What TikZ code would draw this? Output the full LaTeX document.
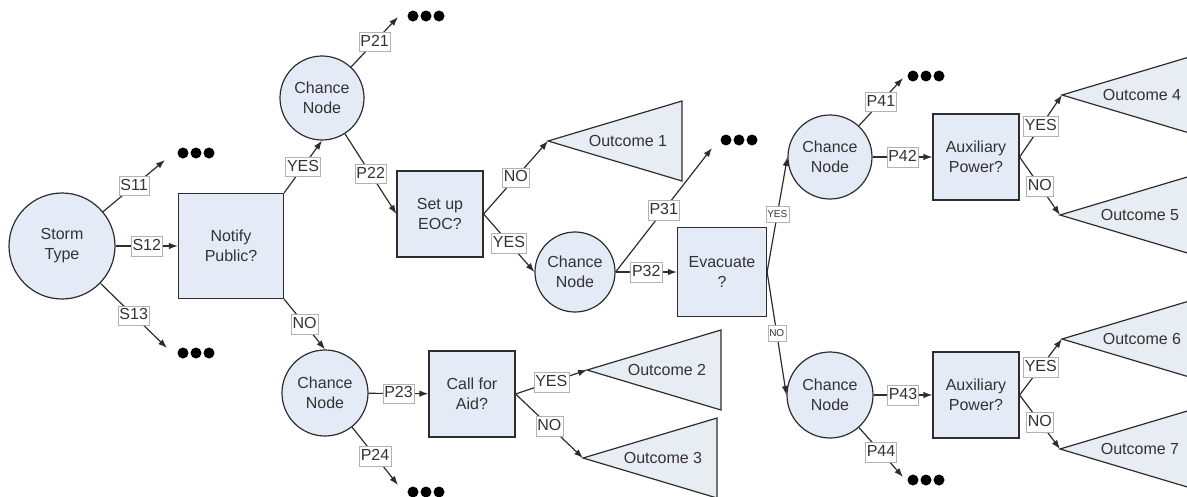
\documentclass[tikz,border=0pt]{standalone}
\usepackage{fontspec}
\setmainfont{Liberation Sans}
\usetikzlibrary{arrows.meta,calc}
\definecolor{nodeblue}{RGB}{228,234,246}
\definecolor{outgray}{RGB}{232,236,243}
\definecolor{linegray}{RGB}{45,45,45}

\begin{document}
\begin{tikzpicture}[x=1pt,y=-1pt,
  every node/.style={text=black!80,font=\fontsize{16}{20}\selectfont},
  chance/.style={circle,draw=linegray,fill=nodeblue,line width=1.2pt,minimum size=84pt,inner sep=0pt,align=center},
  decision/.style={rectangle,draw=linegray,fill=nodeblue,line width=1.2pt,minimum size=86pt,inner sep=0pt,align=center},
  branch/.style={draw=linegray,line width=1.2pt,-{Latex[length=9pt,width=6.5pt]}},
  lab/.style={fill=white,draw=black!30,line width=0.5pt,inner xsep=1.5pt,inner ysep=2pt,text height=12pt,text depth=3.5pt},
  smalllab/.style={lab,font=\fontsize{10}{12}\selectfont,text height=8pt,text depth=2pt,inner ysep=3pt},
  outcome/.style={draw=linegray,fill=outgray,line width=1.2pt}]
\clip (0,0) rectangle (1187,496);   % picture frame
% decision and chance nodes
\node[chance,minimum size=106pt] (storm) at (62,246) {Storm\\Type};
\node[decision,minimum size=105pt] (notify) at (231,246) {Notify\\Public?};
\node[chance] (ch1) at (322,98) {Chance\\Node};
\node[chance,minimum size=86pt] (ch2) at (325,393) {Chance\\Node};
\node[decision] (eoc) at (440,214) {Set up\\EOC?};
\node[decision] (aid) at (472,394) {Call for\\Aid?};
\node[chance,minimum size=80pt] (ch3) at (575,272) {Chance\\Node};
\node[decision,minimum size=89pt] (evac) at (722,272) {Evacuate\\?};
\node[chance] (ch4) at (830,157) {Chance\\Node};
\node[chance,minimum size=86pt] (ch5) at (830,395) {Chance\\Node};
\node[decision] (aux1) at (976,157) {Auxiliary\\Power?};
\node[decision] (aux2) at (976,395) {Auxiliary\\Power?};
% outcome triangles
\foreach \n/\x/\y in {1/548/141,2/587/370,3/583/458,4/1062/95,5/1060/215,6/1062/339,7/1060/449}{
  \coordinate (o\n) at (\x,\y);
  \draw[outcome] (o\n) -- ++(134,-40) -- ++(0,80) -- cycle;
  \node at ($(o\n)+(80,0)$) {Outcome \n};
}
% open branches with dots
\foreach \n/\x/\y/\u/\v in {s11/165/160/196/153,s13/167/348/196/353,p21/398/17/426/16,p24/398/485/426/492,p31/712/148/739/140,p41/903/78/926/76,p44/903/477/926/480}{
  \coordinate (\n) at (\x,\y);
  \foreach \d in {-13,0,13} \fill[black] (\u+\d,\v) circle (5.5pt);
}
% branches
\draw[branch] (storm) -- node[lab]{S11} (s11);
\draw[branch] (storm) -- node[lab]{S12} (notify);
\draw[branch] (storm) -- node[lab]{S13} (s13);
\draw[branch] (notify.north east) -- node[lab]{YES} (ch1.south);
\draw[branch] (notify.south east) -- node[lab]{NO} (ch2.north);
\draw[branch] (ch1) -- node[lab]{P21} (p21);
\draw[branch] (ch1) -- node[lab]{P22} (eoc.west);
\draw[branch] (ch2) -- node[lab]{P23} (aid);
\draw[branch] (ch2) -- node[lab]{P24} (p24);
\draw[branch] (eoc.east) -- node[lab]{NO} (o1);
\draw[branch] (eoc.east) -- node[lab]{YES} (ch3.west);
\draw[branch] (aid.east) -- node[lab]{YES} (o2);
\draw[branch] (aid.east) -- node[lab]{NO} (o3);
\draw[branch] (ch3.east) -- node[lab]{P31} (p31);
\draw[branch] (ch3.east) -- node[lab]{P32} (evac);
\draw[branch] (evac.east) -- node[smalllab]{YES} (ch4.west);
\draw[branch] (evac.east) -- node[smalllab]{NO} (ch5.west);
\draw[branch] (ch4) -- node[lab]{P41} (p41);
\draw[branch] (ch4) -- node[lab]{P42} (aux1);
\draw[branch] (ch5) -- node[lab]{P43} (aux2);
\draw[branch] (ch5) -- node[lab]{P44} (p44);
\draw[branch] (aux1.east) -- node[lab]{YES} (o4);
\draw[branch] (aux1.east) -- node[lab]{NO} (o5);
\draw[branch] (aux2.east) -- node[lab]{YES} (o6);
\draw[branch] (aux2.east) -- node[lab]{NO} (o7);
\end{tikzpicture}
\end{document}
